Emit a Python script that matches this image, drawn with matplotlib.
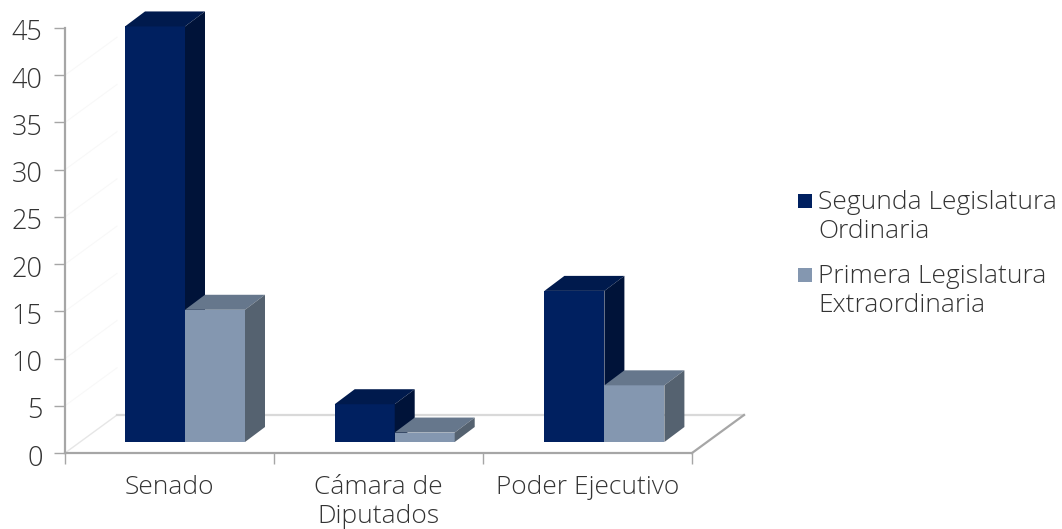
"""Clustered pseudo-3D column chart of initiatives by origin chamber."""

import matplotlib

matplotlib.use("Agg")

import matplotlib.pyplot as plt
from matplotlib.patches import Polygon, Rectangle
from matplotlib.transforms import ScaledTranslation


CATEGORIES = ["Senado", "Cámara de\nDiputados", "Poder Ejecutivo"]
SEGUNDA = [44, 4, 16]
PRIMERA = [14, 1, 6]
SERIES_NAMES = ["Segunda Legislatura\nOrdinaria", "Primera Legislatura\nExtraordinaria"]
Y_TICKS = list(range(0, 50, 5))

DARK = ("#002060", "#001A4D", "#001339")
LIGHT = ("#8497B0", "#66778C", "#556270")
TEXT = "#333333"
FONT_SIZE = 19

WIDTH, HEIGHT = 1062, 529
PX_X = 209.0  # pixels per category
PX_Y = 425 / 45  # pixels per unit of value
DEPTH_X = 20 / PX_X
DEPTH_Y = 15 / PX_Y
BASE = 11 / PX_Y  # columns stand on the floor, above the front axis
BAR_W = 60 / PX_X
BAR_START = 60 / PX_X
GROUP_STEP = 209.7 / PX_X  # groups drift a little from the ticks in the 3D view


def draw_column(ax, x, value, colors):
    front, top, side = colors
    y0, y1 = BASE, BASE + value
    x1 = x + BAR_W
    ax.add_patch(Polygon([(x, y0), (x1, y0), (x1, y1), (x, y1)], fc=front, ec="none", clip_on=False, zorder=3))
    ax.add_patch(Polygon(
        [(x, y1), (x1, y1), (x1 + DEPTH_X, y1 + DEPTH_Y), (x + DEPTH_X, y1 + DEPTH_Y)],
        fc=top, ec="none", clip_on=False, zorder=3,
    ))
    ax.add_patch(Polygon(
        [(x1, y0), (x1 + DEPTH_X, y0 + DEPTH_Y), (x1 + DEPTH_X, y1 + DEPTH_Y), (x1, y1)],
        fc=side, ec="none", clip_on=False, zorder=3,
    ))


def draw_floor(ax):
    n = len(CATEGORIES)
    wall_x = 52 / PX_X
    wall_y = 38 / PX_Y
    for tick in Y_TICKS[1:-1]:
        ax.plot([0, wall_x], [tick, tick + wall_y], color="#F8F8F8", lw=0.8, clip_on=False, zorder=1)
    ax.plot([0, wall_x], [0, wall_y], color="#E6E6E6", lw=1, clip_on=False, zorder=1)
    ax.plot([wall_x, n + wall_x], [wall_y, wall_y], color="#D9D9D9", lw=1.6, clip_on=False, zorder=1)
    ax.plot([n, n + wall_x], [0, wall_y], color="#A6A6A6", lw=1.6, clip_on=False, zorder=1)


def draw_legend(fig):
    for i, (name, color) in enumerate(zip(SERIES_NAMES, (DARK[0], LIGHT[0]))):
        top = 194 + 74 * i
        fig.add_artist(Rectangle(
            (798 / WIDTH, 1 - (top + 14) / HEIGHT), 14 / WIDTH, 14 / HEIGHT,
            transform=fig.transFigure, fc=color, ec="none",
        ))
        fig.text(
            818 / WIDTH, 1 - (top - 4) / HEIGHT, name, ha="left", va="top",
            fontsize=FONT_SIZE, fontweight="light", color=TEXT, linespacing=1.21,
        )


def main():
    plt.rcParams["font.family"] = ["Open Sans", "DejaVu Sans"]
    fig = plt.figure(figsize=(WIDTH / 100, HEIGHT / 100), dpi=100, facecolor="white")
    ax = fig.add_axes([65 / WIDTH, 1 - 453 / HEIGHT, 627 / WIDTH, 425 / HEIGHT])
    ax.set_xlim(0, len(CATEGORIES))
    ax.set_ylim(0, 45)
    ax.patch.set_alpha(0)

    draw_floor(ax)
    for i, (dark, light) in enumerate(zip(SEGUNDA, PRIMERA)):
        x = i * GROUP_STEP + BAR_START
        draw_column(ax, x, dark, DARK)
        draw_column(ax, x + BAR_W, light, LIGHT)

    for side in ("top", "right"):
        ax.spines[side].set_visible(False)
    for side in ("left", "bottom"):
        ax.spines[side].set_color("#A6A6A6")
        ax.spines[side].set_linewidth(1.6)

    ax.set_yticks(Y_TICKS)
    ax.set_xticks(range(len(CATEGORIES) + 1))
    ax.set_xticklabels([])
    ax.tick_params(axis="both", color="#A6A6A6", width=1, length=8)
    ax.tick_params(axis="y", labelsize=19.5, labelcolor=TEXT, pad=8)
    nudge = ScaledTranslation(0, -2 / 100, fig.dpi_scale_trans)
    for label in ax.get_yticklabels():
        label.set_fontweight("light")
        label.set_transform(label.get_transform() + nudge)
    for i, name in enumerate(CATEGORIES):
        ax.annotate(
            name, xy=(i + 0.5, 0), xytext=(0, -16), textcoords="offset points",
            ha="center", va="top", fontsize=FONT_SIZE, fontweight="light", color=TEXT,
            linespacing=1.2, annotation_clip=False,
        )

    draw_legend(fig)

    fig.savefig("out.png", dpi=100)
    plt.close(fig)


if __name__ == "__main__":
    main()
